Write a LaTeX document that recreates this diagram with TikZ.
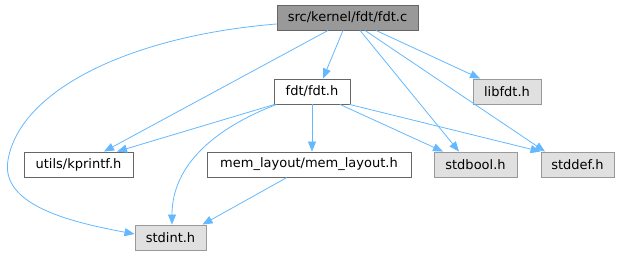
\documentclass[tikz,border=0pt]{standalone}
\usepackage{fontspec}
\setmainfont{DejaVu Sans}
\usetikzlibrary{arrows.meta}
\definecolor{edgeblue}{HTML}{63B8FF}
\definecolor{rootfill}{HTML}{999999}
\definecolor{rootdraw}{HTML}{666666}
\definecolor{extfill}{HTML}{E0E0E0}
\definecolor{extdraw}{HTML}{999999}
\definecolor{intdraw}{HTML}{666666}
\begin{document}
\begin{tikzpicture}[x=1pt,y=-1pt,
  box/.style={rectangle, minimum height=25pt, inner sep=0pt, line width=0.9pt, font=\fontsize{13}{15}\selectfont, text=black},
  rootbox/.style={box, fill=rootfill, draw=rootdraw},
  intbox/.style={box, fill=white, draw=intdraw},
  extbox/.style={box, fill=extfill, draw=extdraw},
  dep/.style={draw=edgeblue, line width=0.8pt, -{Triangle[length=10pt,width=8pt]}, fill=none}
]
\useasboundingbox (0,0) rectangle (621,256);
\node[rootbox, minimum width=141pt] (fdtc) at (347.5,17.5) {src/kernel/fdt/fdt.c};
\node[intbox, minimum width=76pt] (fdth) at (312,91.5) {fdt/fdt.h};
\node[extbox, minimum width=68pt] (libfdt) at (507,91.5) {libfdt.h};
\node[intbox, minimum width=109pt] (kprintf) at (78.5,164.5) {utils/kprintf.h};
\node[intbox, minimum width=204pt] (mem) at (309,164.5) {mem\_layout/mem\_layout.h};
\node[extbox, minimum width=83pt] (stdbool) at (475.5,164.5) {stdbool.h};
\node[extbox, minimum width=73pt] (stddef) at (577.5,164.5) {stddef.h};
\node[extbox, minimum width=71pt] (stdint) at (170.5,237.5) {stdint.h};

% fdt.c edges
\draw[dep] ([yshift=-6.5pt]fdtc.west) .. controls (130,36) and (20,90) .. (8,160)
  .. controls (0,205) and (70,222) .. ([yshift=3.5pt]stdint.west);
\draw[dep] ([xshift=-19.5pt]fdtc.south) -- ([xshift=25.5pt]kprintf.north);
\draw[dep] ([xshift=-4.5pt]fdtc.south) -- ([xshift=11pt]fdth.north);
\draw[dep] ([xshift=28.5pt]fdtc.south) -- ([xshift=-27pt]libfdt.north);
\draw[dep] ([xshift=12.5pt]fdtc.south) -- ([xshift=-16.5pt]stdbool.north);
\draw[dep] ([xshift=17.5pt]fdtc.south) -- ([xshift=-32.5pt]stddef.north);

% fdt.h edges
\draw[dep] ([xshift=1pt]fdth.south west) -- ([xshift=38.5pt]kprintf.north);
\draw[dep] ([xshift=3pt]fdth.south west) .. controls (215,128) and (172,165) .. ([xshift=1.5pt]stdint.north);
\draw[dep] (fdth.south) -- ([xshift=3pt]mem.north);
\draw[dep] ([xshift=28pt]fdth.south) -- ([xshift=-32.5pt]stdbool.north);
\draw[dep] ([xshift=-1pt]fdth.south east) -- (stddef.north west);

% mem_layout edge
\draw[dep] ([xshift=-22pt]mem.south) -- ([xshift=32pt]stdint.north);
\end{tikzpicture}
\end{document}
